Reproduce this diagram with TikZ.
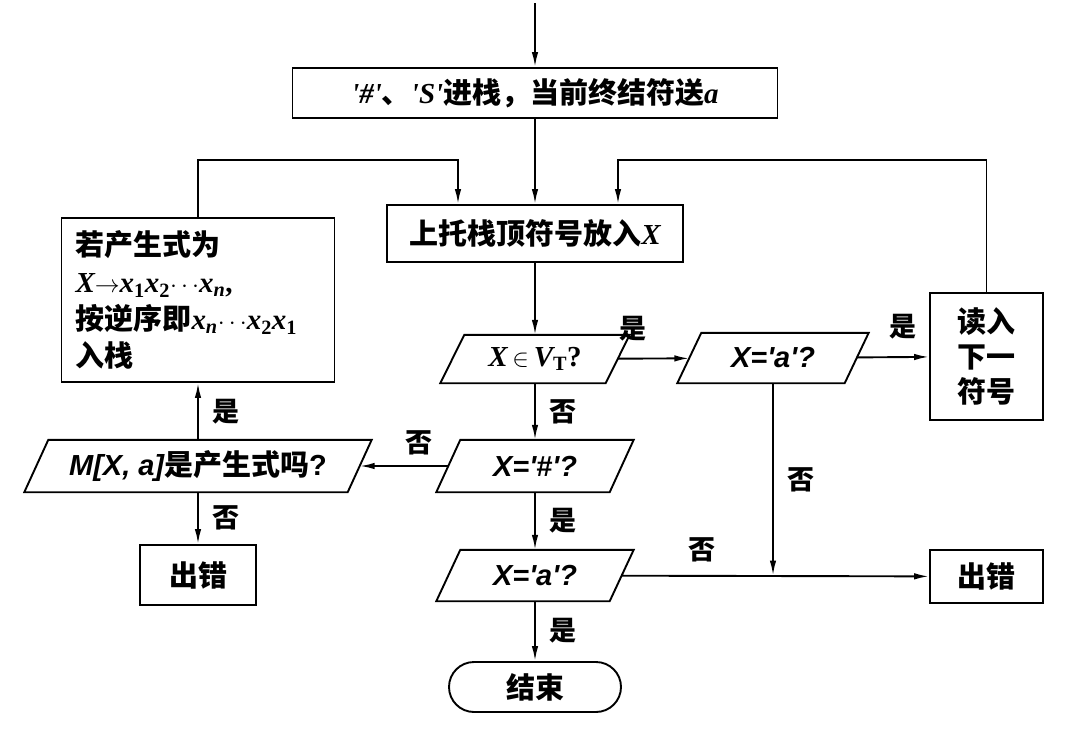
\documentclass[tikz,border=0pt]{standalone}
\usepackage{fontspec}
\setmainfont{Liberation Serif}
\newfontfamily\lat{Liberation Serif}
\newfontfamily\lsans{Liberation Sans}
\newfontfamily\cjk{Noto Sans CJK SC}
\usetikzlibrary{arrows.meta}
\newcommand\vi[1]{{\lat\bfseries\itshape #1}}
\newcommand\vs[1]{{\lsans\bfseries\itshape #1}}
\newcommand\drawpara[1]{\draw[lin] ([xshift=12pt]#1.north west) -- ([xshift=12pt]#1.north east) -- ([xshift=-12pt]#1.south east) -- ([xshift=-12pt]#1.south west) -- cycle;}
\begin{document}
\begin{tikzpicture}[x=1pt,y=-1pt,
  every node/.style={font=\fontsize{29}{35}\selectfont\cjk\bfseries},
  lin/.style={line width=1.9pt},
  arr/.style={line width=1.9pt,-{Latex[length=15pt,width=6.5pt]}},
  box/.style={draw,line width=1.9pt,inner sep=2pt},
  dec/.style={inner sep=0pt},
  lbl/.style={inner sep=2pt,font=\fontsize{27}{32}\selectfont\cjk\bfseries}]
\useasboundingbox[fill=white] (0,0) rectangle (1088,736);
% nodes
\coordinate (start) at (535,3);
\coordinate (lvl) at (0,160);
\node[box,minimum width=485pt,minimum height=50pt] (init) at (535,93)
  {\vi{'\#'}、\vi{'S'}进栈，当前终结符送\vi{a}};
\node[box,minimum width=296pt,minimum height=57pt] (stk) at (535,233.5)
  {上托栈顶符号放入\vi{X}};
\node[box,minimum width=273pt,minimum height=164pt,text width=245pt,align=left,
  font=\fontsize{29}{37}\selectfont\cjk\bfseries] (lbox) at (198,300)
  {若产生式为\\
   \vi{X}$\rightarrow$\vi{x}\textsubscript{\lat\bfseries 1}\vi{x}\textsubscript{\lat\bfseries 2}$\cdots$\vi{x}\textsubscript{\vi{n}}{\lat\bfseries ,}\\
   按逆序即\vi{x}\textsubscript{\vi{n}}$\cdots$\vi{x}\textsubscript{\lat\bfseries 2}\vi{x}\textsubscript{\lat\bfseries 1}\\
   入栈};
\node[box,minimum width=113pt,minimum height=127pt,align=center,
  font=\fontsize{29}{35}\selectfont\cjk\bfseries] (read) at (986.5,356.5) {读入\\下一\\符号};
\node[dec,minimum width=165pt,minimum height=48pt] (d1) at (535,359)
  {\vi{X}\,$\in$\,\vi{V}\textsubscript{\lat\bfseries T}{\lat\bfseries ?}};
\node[dec,minimum width=167pt,minimum height=50pt] (d2) at (773,358)
  {\vs{X='a'?}};
\node[dec,minimum width=173pt,minimum height=52pt] (d3) at (535,466)
  {\vs{X='\#'?}};
\node[dec,minimum width=323pt,minimum height=52pt] (d4) at (198,466)
  {\vs{M[X, a]}是产生式吗{\lsans\bfseries ?}};
\node[dec,minimum width=173pt,minimum height=51pt] (d5) at (535,575.5)
  {\vs{X='a'?}};
\node[box,minimum width=116pt,minimum height=60pt] (lerr) at (198,575) {出错};
\node[box,minimum width=113pt,minimum height=53pt] (rerr) at (986.5,576.5) {出错};
\node[box,minimum width=172pt,minimum height=50pt,rounded corners=25pt] (end) at (535,687) {结束};
\drawpara{d1}
\drawpara{d2}
\drawpara{d3}
\drawpara{d4}
\drawpara{d5}
\coordinate (j) at (d2.south |- d5.east);
% connectors
\draw[arr] (start) -- (init);
\draw[arr] (init) -- (stk);
\draw[arr] (lbox.north) -- (lbox.north |- lvl) -| ([xshift=-77pt]stk.north);
\draw[arr] (read.north) -- (read.north |- lvl) -| ([xshift=83pt]stk.north);
\draw[arr] (stk) -- (d1);
\draw[arr] (d1) -- node[lbl,above=15pt,pos=0.22] (l1) {是} (d2);
\draw[arr] (d2) -- node[lbl,above=15pt,pos=0.64] (l2) {是} (read);
\draw[arr] (d1) -- node[lbl,right=12pt] (l3) {否} (d3);
\draw[arr] (d3) -- node[lbl,above=8pt,pos=0.33] (l4) {否} (d4);
\draw[arr] (d4) -- node[lbl,right=12pt] (l5) {是} (lbox);
\draw[arr] (d4) -- node[lbl,right=12pt] (l6) {否} (lerr);
\draw[arr] (d3) -- node[lbl,right=12pt] (l7) {是} (d5);
\draw[arr] (d5) -- node[lbl,right=12pt] (l8) {是} (end);
\draw[arr] (d2) -- node[lbl,right=12pt] (l9) {否} (j);
\draw[arr] (d5) -- node[lbl,above=11pt,pos=0.26] (l10) {否} (rerr);
\end{tikzpicture}
\end{document}
